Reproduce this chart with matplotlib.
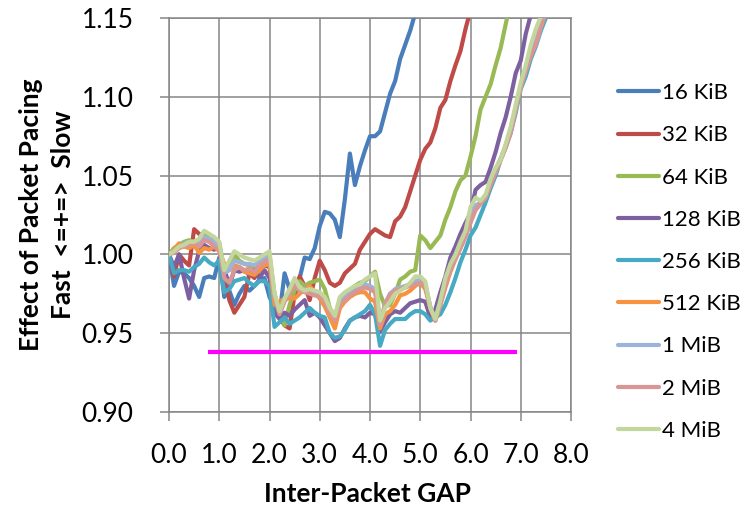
import numpy as np
import matplotlib
matplotlib.use("Agg")
import matplotlib.pyplot as plt

plt.rcParams['font.family'] = ['Lato', 'DejaVu Sans']

# ---------------- data ----------------
gap = np.round(np.arange(0, 81) * 0.1, 1)   # category axis 0.0 .. 8.0 step 0.1

labels = ["16 KiB", "32 KiB", "64 KiB", "128 KiB", "256 KiB",
          "512 KiB", "1 MiB", "2 MiB", "4 MiB"]
colors = ["#4A7EBB", "#BE4B48", "#98B954", "#7D60A0", "#46AAC5",
          "#F69240", "#9BB4DA", "#D99694", "#C3D69B"]

kib16 = [1.000, 0.980, 0.989, 0.988, 0.985, 0.980, 0.973, 0.985, 0.986, 0.985,
         0.998, 0.973, 0.977, 0.968, 0.975, 0.980, 0.977, 0.980, 0.984, 0.985,
         0.973, 0.966, 0.962, 0.988, 0.978, 0.974, 0.985, 0.998, 0.997, 1.004,
         1.018, 1.027, 1.026, 1.022, 1.011, 1.035, 1.064, 1.044, 1.056, 1.066,
         1.075, 1.075, 1.078, 1.090, 1.102, 1.110, 1.124, 1.133, 1.142, 1.153]

kib32 = [1.000, 0.986, 1.000, 0.996, 0.993, 1.016, 1.013, 1.012, 1.011, 1.008,
         1.007, 0.988, 0.971, 0.963, 0.968, 0.973, 0.988, 0.985, 0.990, 0.993,
         0.992, 0.970, 0.960, 0.955, 0.953, 0.975, 0.986, 0.980, 0.971, 0.985,
         0.996, 0.990, 0.982, 0.980, 0.982, 0.988, 0.991, 0.994, 1.003, 1.008,
         1.013, 1.016, 1.014, 1.012, 1.011, 1.021, 1.024, 1.030, 1.040, 1.050,
         1.060, 1.067, 1.071, 1.080, 1.093, 1.098, 1.110, 1.120, 1.129, 1.143,
         1.155]

kib64 = [1.000, 1.004, 1.006, 1.008, 1.009, 1.008, 1.007, 1.012, 1.011, 1.010,
         1.006, 0.988, 0.993, 1.000, 0.996, 0.994, 0.993, 0.992, 0.995, 0.997,
         0.999, 0.975, 0.963, 0.955, 0.968, 0.977, 0.983, 0.980, 0.982, 0.983,
         0.984, 0.978, 0.966, 0.960, 0.970, 0.974, 0.977, 0.980, 0.982, 0.983,
         0.986, 0.989, 0.975, 0.967, 0.968, 0.975, 0.984, 0.986, 0.989, 0.990,
         1.012, 1.009, 1.004, 1.008, 1.012, 1.022, 1.030, 1.040, 1.047, 1.050,
         1.062, 1.075, 1.092, 1.100, 1.108, 1.120, 1.131, 1.146, 1.160]

kib128 = [1.000, 0.992, 1.000, 0.985, 0.972, 0.990, 1.002, 1.006, 1.004, 1.003,
          1.005, 0.991, 0.980, 0.990, 0.989, 0.990, 0.987, 0.990, 0.985, 0.990,
          0.985, 0.963, 0.959, 0.963, 0.961, 0.965, 0.968, 0.971, 0.961, 0.963,
          0.960, 0.955, 0.950, 0.945, 0.947, 0.953, 0.958, 0.960, 0.961, 0.960,
          0.963, 0.962, 0.951, 0.957, 0.962, 0.964, 0.963, 0.966, 0.969, 0.970,
          0.971, 0.970, 0.960, 0.965, 0.976, 0.986, 0.998, 1.005, 1.013, 1.020,
          1.026, 1.041, 1.044, 1.046, 1.055, 1.065, 1.077, 1.087, 1.100, 1.115,
          1.123, 1.140, 1.152]

kib256 = [1.000, 0.988, 0.990, 0.990, 0.989, 0.992, 0.994, 0.998, 0.995, 0.993,
          0.996, 0.976, 0.978, 0.983, 0.984, 0.985, 0.982, 0.980, 0.983, 0.983,
          0.980, 0.954, 0.957, 0.960, 0.956, 0.958, 0.960, 0.963, 0.966, 0.963,
          0.961, 0.960, 0.950, 0.947, 0.948, 0.952, 0.958, 0.960, 0.962, 0.964,
          0.968, 0.962, 0.942, 0.952, 0.956, 0.959, 0.959, 0.959, 0.962, 0.964,
          0.964, 0.962, 0.958, 0.960, 0.962, 0.968, 0.976, 0.985, 0.995, 1.003,
          1.012, 1.017, 1.025, 1.033, 1.042, 1.050, 1.060, 1.068, 1.077, 1.090,
          1.105, 1.113, 1.124, 1.132, 1.142, 1.150, 1.160]

kib512 = [1.000, 1.003, 1.007, 1.005, 1.004, 1.006, 1.001, 1.004, 1.003, 1.005,
          1.002, 0.994, 0.990, 0.993, 0.992, 0.989, 0.988, 0.987, 0.990, 0.993,
          0.994, 0.968, 0.970, 0.972, 0.972, 0.972, 0.975, 0.978, 0.980, 0.976,
          0.972, 0.967, 0.960, 0.953, 0.966, 0.970, 0.973, 0.975, 0.976, 0.976,
          0.972, 0.970, 0.953, 0.962, 0.964, 0.968, 0.974, 0.975, 0.977, 0.980,
          0.982, 0.978, 0.966, 0.958, 0.968, 0.979, 0.989, 0.997, 1.004, 1.012,
          1.022, 1.030, 1.033, 1.036, 1.045, 1.053, 1.060, 1.068, 1.079, 1.093,
          1.107, 1.118, 1.128, 1.138, 1.148, 1.156]

mib1 = [1.000, 1.002, 1.004, 1.007, 1.008, 1.008, 1.007, 1.011, 1.010, 1.008,
        1.006, 0.988, 0.990, 0.996, 0.995, 0.994, 0.994, 0.993, 0.996, 0.998,
        0.999, 0.973, 0.963, 0.971, 0.977, 0.983, 0.978, 0.978, 0.977, 0.976,
        0.975, 0.972, 0.965, 0.960, 0.970, 0.973, 0.976, 0.977, 0.979, 0.981,
        0.980, 0.978, 0.956, 0.969, 0.975, 0.978, 0.979, 0.980, 0.981, 0.983,
        0.984, 0.981, 0.967, 0.958, 0.969, 0.982, 0.991, 0.998, 1.005, 1.012,
        1.024, 1.031, 1.033, 1.037, 1.046, 1.054, 1.061, 1.069, 1.079, 1.093,
        1.107, 1.118, 1.129, 1.139, 1.148, 1.156]

mib2 = [1.000, 1.001, 1.004, 1.005, 1.006, 1.007, 1.005, 1.009, 1.008, 1.005,
        1.004, 0.985, 0.982, 0.990, 0.992, 0.990, 0.991, 0.989, 0.993, 0.995,
        0.997, 0.972, 0.962, 0.970, 0.975, 0.981, 0.977, 0.976, 0.975, 0.974,
        0.973, 0.970, 0.963, 0.958, 0.968, 0.971, 0.974, 0.976, 0.978, 0.979,
        0.978, 0.976, 0.955, 0.968, 0.975, 0.977, 0.978, 0.979, 0.980, 0.981,
        0.982, 0.980, 0.966, 0.958, 0.968, 0.980, 0.990, 0.997, 1.004, 1.011,
        1.020, 1.028, 1.032, 1.036, 1.044, 1.052, 1.060, 1.068, 1.077, 1.092,
        1.106, 1.116, 1.126, 1.133, 1.144, 1.153]

mib4 = [1.000, 1.002, 1.005, 1.006, 1.008, 1.008, 1.010, 1.015, 1.013, 1.011,
        1.008, 0.990, 0.996, 1.002, 1.000, 0.998, 0.997, 0.996, 0.998, 1.000,
        1.002, 0.975, 0.964, 0.972, 0.978, 0.985, 0.979, 0.977, 0.978, 0.977,
        0.976, 0.973, 0.966, 0.961, 0.973, 0.976, 0.978, 0.980, 0.981, 0.984,
        0.986, 0.988, 0.958, 0.966, 0.970, 0.975, 0.977, 0.979, 0.982, 0.986,
        0.986, 0.983, 0.966, 0.959, 0.971, 0.985, 0.994, 1.000, 1.008, 1.015,
        1.030, 1.036, 1.034, 1.038, 1.048, 1.055, 1.060, 1.070, 1.081, 1.095,
        1.109, 1.120, 1.133, 1.143, 1.151, 1.160]

series = [kib16, kib32, kib64, kib128, kib256, kib512, mib1, mib2, mib4]

# horizontal marker line (magenta)
marker_x = [0.77, 6.93]
marker_y = [0.938, 0.938]

x_ticks = [0, 1, 2, 3, 4, 5, 6, 7, 8]
y_ticks = [0.90, 0.95, 1.00, 1.05, 1.10, 1.15]

# ---------------- figure ----------------
fig = plt.figure(figsize=(7.44, 5.05), dpi=100)
ax = fig.add_axes([169/744, 1 - 412/505, (571-169)/744, (412-18)/505])

grid_c = "#868686"
for vals, lab, col in zip(series, labels, colors):
    ax.plot(gap[:len(vals)], vals, color=col, lw=3.0, label=lab,
            solid_joinstyle='round', solid_capstyle='round', zorder=3)

ax.plot(marker_x, marker_y, color="#FF00FF", lw=3.0, zorder=4,
        solid_capstyle='butt')

ax.set_xlim(0, 8)
ax.set_ylim(0.90, 1.15)
ax.set_xticks(x_ticks)
ax.set_xticklabels([f"{v:.1f}" for v in x_ticks])
ax.set_yticks(y_ticks)
ax.set_yticklabels([f"{v:.2f}" for v in y_ticks])

ax.grid(True, color=grid_c, lw=1.1, zorder=0)
ax.set_axisbelow(True)
for s in ax.spines.values():
    s.set_color(grid_c)
    s.set_linewidth(1.1)

ax.tick_params(axis='both', which='major', direction='out', color=grid_c,
               width=1.1, length=6.5, labelsize=19, labelcolor='black')
ax.tick_params(axis='y', pad=19)
ax.tick_params(axis='x', pad=16)

fig.text(368/744, 1 - 494/505, "Inter-Packet GAP", ha='center', va='center',
         fontsize=19, fontweight='bold')
fig.text(47/744, 1 - 215/505, "Effect of Packet Pacing\nFast  <=+=>  Slow",
         ha='center', va='center', rotation=90, fontsize=19,
         fontweight='bold', linespacing=1.4, multialignment='center')

leg = ax.legend(loc='center left', bbox_to_anchor=(618/744, 1 - 262/505),
                bbox_transform=fig.transFigure, frameon=False, fontsize=16,
                handlelength=1.85, handletextpad=0.15, labelspacing=1.0,
                borderpad=0, borderaxespad=0)
for line in leg.get_lines():
    line.set_linewidth(3.0)

fig.savefig("out.png", dpi=100)
